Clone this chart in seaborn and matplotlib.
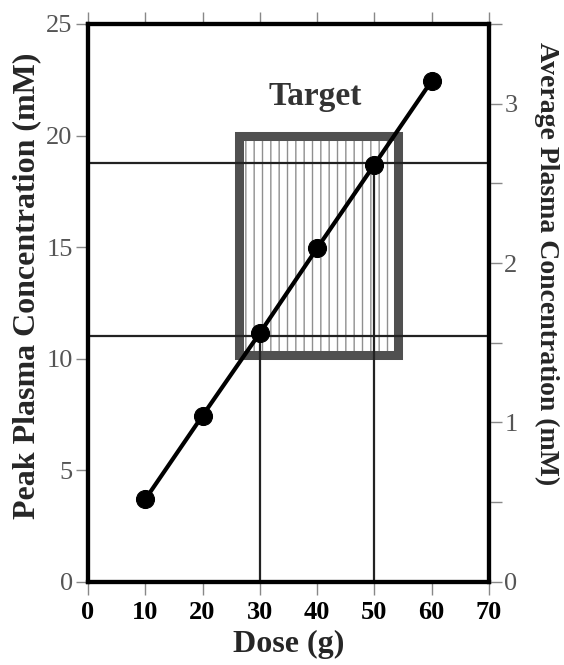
import matplotlib
matplotlib.use("Agg")
import matplotlib.pyplot as plt
import matplotlib.patches as mpatches
import numpy as np
import pandas as pd
import seaborn as sns

# data
DOSE = [10, 20, 30, 40, 50, 60]
PEAK = [3.7, 7.45, 11.15, 14.95, 18.7, 22.45]
REF_DOSES = [30, 50]
REF_LEVELS = [11.0, 18.75]        # horizontal guide lines (left-axis units)
TARGET_DOSE = [26.3, 54.2]
TARGET_PEAK = [10.15, 20.0]
X_TICKS = [0, 10, 20, 30, 40, 50, 60, 70]
LEFT_TICKS = [0, 5, 10, 15, 20, 25]
RIGHT_TICKS = [0, 0.5, 1, 1.5, 2, 2.5, 3, 3.5]

SERIF = ["Liberation Serif", "DejaVu Serif"]
TICK_KW = dict(direction="out", length=9, width=1, color="#888888", pad=2)


def main() -> None:
    sns.set_theme(style="white")
    plt.rcParams["font.family"] = SERIF
    plt.rcParams["hatch.linewidth"] = 1.0

    fig = plt.figure(figsize=(5.64, 6.65), dpi=100)
    ax = fig.add_axes([0.156, 0.125, 0.711, 0.839])
    df = pd.DataFrame({"dose": DOSE, "peak": PEAK})

    # target box: hatched fill + thick grey frame
    x0, x1 = TARGET_DOSE
    y0, y1 = TARGET_PEAK
    ax.add_patch(mpatches.Rectangle((x0, y0), x1 - x0, y1 - y0, facecolor="white",
                                    edgecolor="#8f8f8f", hatch="||", linewidth=0, zorder=1))
    ax.add_patch(mpatches.Rectangle((x0, y0), x1 - x0, y1 - y0, fill=False,
                                    edgecolor="#505050", linewidth=6.5, zorder=2))

    for lvl in REF_LEVELS:
        ax.axhline(lvl, color="#222222", linewidth=1.6, zorder=3)
    ax.vlines(REF_DOSES, 0, REF_LEVELS, color="#222222", linewidth=1.6, zorder=3)

    sns.lineplot(data=df, x="dose", y="peak", marker="o", markersize=13, color="black",
                 markeredgecolor="black", linewidth=3, ax=ax, zorder=4)

    ax.text(39.6, 21.75, "Target", ha="center", va="center", fontsize=24,
            fontweight="bold", color="#333333")

    ax.set_xlim(0, 70)
    ax.set_ylim(0, 25)
    ax.set_xticks(X_TICKS)
    ax.set_yticks(LEFT_TICKS)
    ax.set_xticklabels([str(t) for t in X_TICKS], fontweight="bold", fontsize=19)
    ax.set_yticklabels([str(t) for t in LEFT_TICKS], fontsize=19, color="#555555")
    ax.tick_params(axis="both", bottom=True, left=True, top=True, **TICK_KW)
    ax.tick_params(axis="x", labelcolor="black", pad=5)
    ax.set_xlabel("Dose (g)", fontsize=23, fontweight="bold", va="center")
    ax.set_ylabel("Peak Plasma Concentration (mM)", fontsize=23, fontweight="bold",
                  va="center")
    ax.xaxis.set_label_coords(0.5, -0.113)
    ax.yaxis.set_label_coords(-0.152, 0.53)

    ax2 = ax.twinx()
    ax2.set_position(ax.get_position())
    ax2.set_ylim(0, 3.5)
    ax2.set_yticks(RIGHT_TICKS)
    ax2.set_yticklabels([f"{t:g}" if float(t).is_integer() else "" for t in RIGHT_TICKS],
                        fontsize=19, color="#555555")
    ax2.tick_params(axis="y", **TICK_KW)
    ax2.set_ylabel("Average Plasma Concentration (mM)", fontsize=20, fontweight="bold",
                   rotation=-90, va="center")
    ax2.yaxis.set_label_coords(1.143, 0.57)

    for a in (ax, ax2):
        for side in a.spines.values():
            side.set_color("black")
            side.set_linewidth(3)
        a.grid(False)

    fig.savefig("out.png", dpi=100)
    plt.close(fig)


if __name__ == "__main__":
    main()
